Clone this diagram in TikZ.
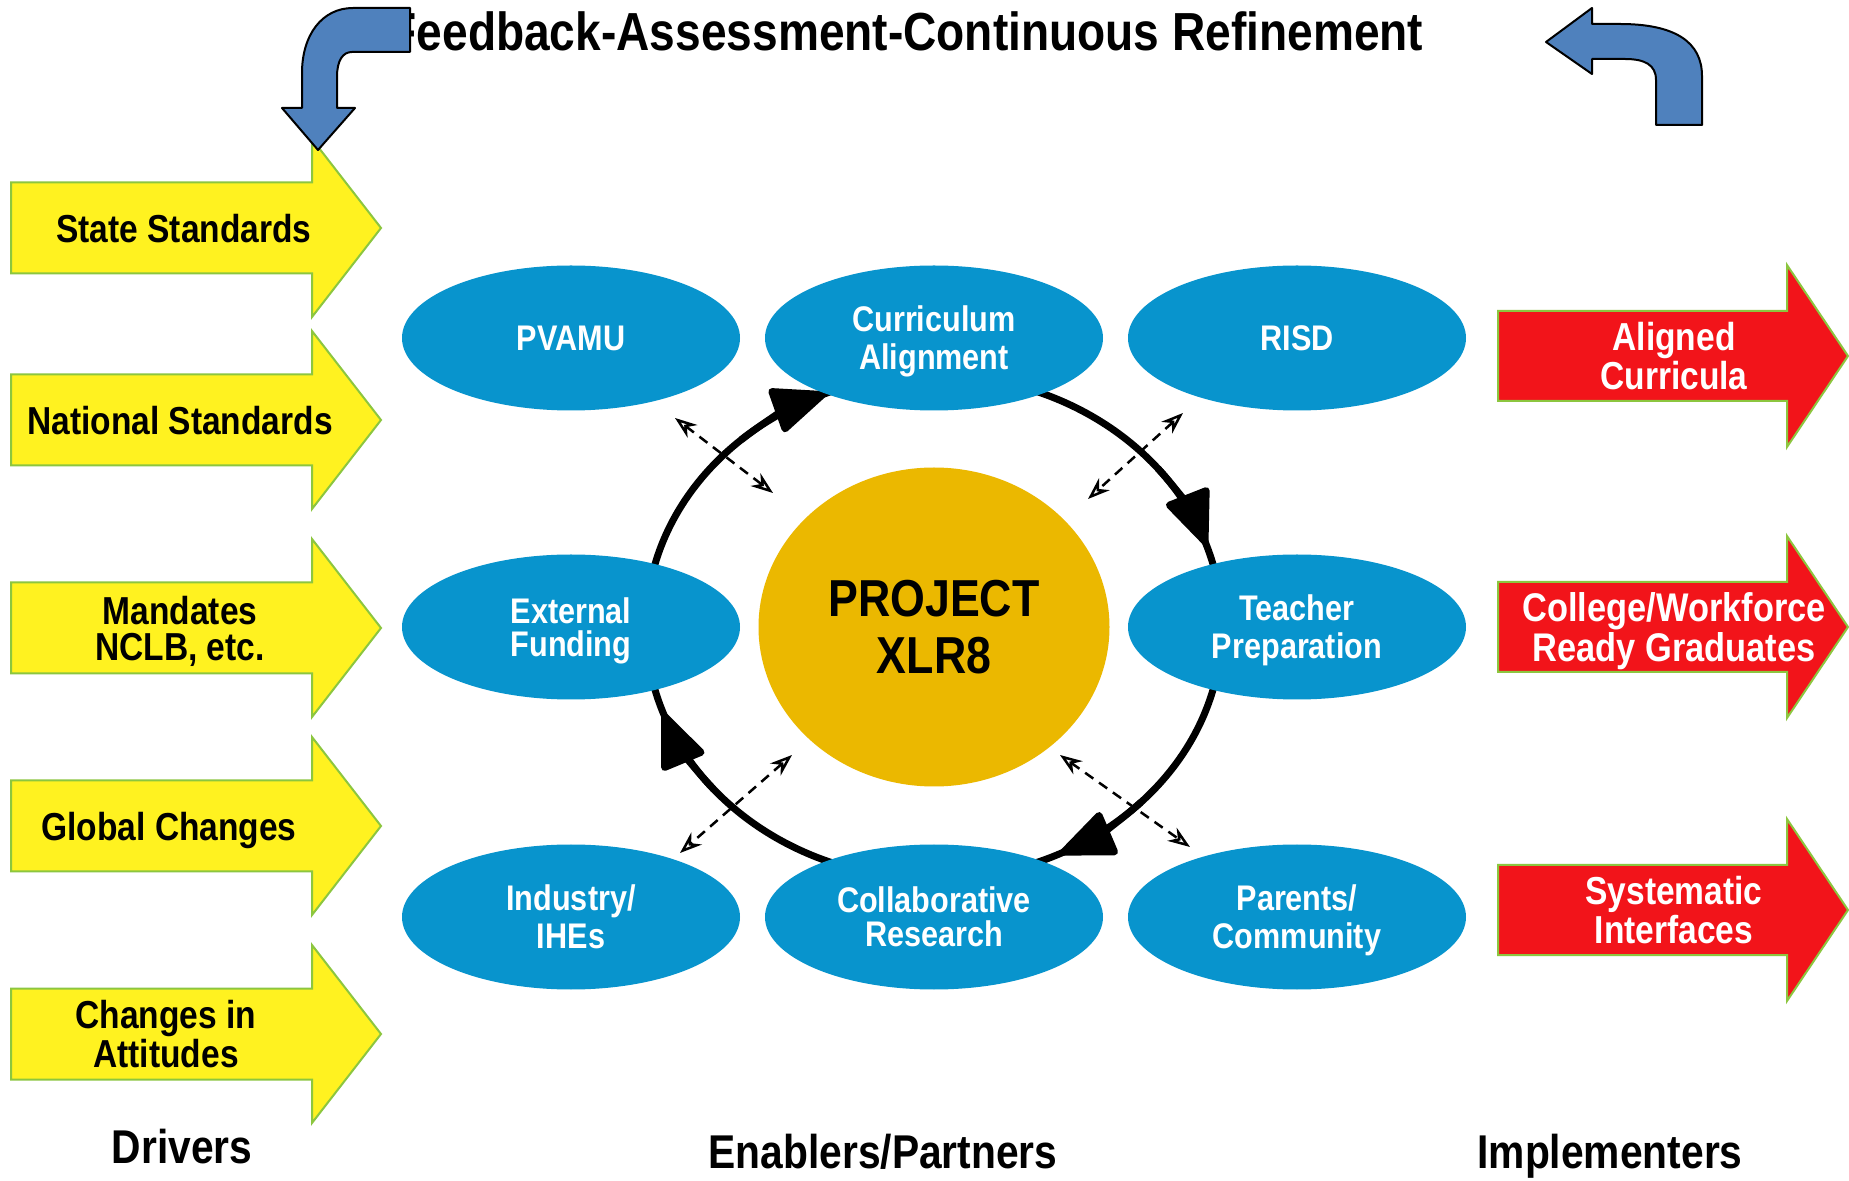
\documentclass[tikz,border=0pt]{standalone}
\usepackage{fontspec}
\setmainfont{Liberation Sans}[FakeStretch=0.86]
\usetikzlibrary{arrows.meta,shapes.geometric}

\definecolor{drvyellow}{RGB}{255,242,32}
\definecolor{edgegreen}{RGB}{140,198,63}
\definecolor{implred}{RGB}{242,20,26}
\definecolor{partnerblue}{RGB}{8,148,205}
\definecolor{coregold}{RGB}{235,184,0}
\definecolor{cycleblue}{RGB}{79,129,189}

% block arrow: style, left x, neck x, tip x, centre y, half body, half head
\newcommand\BlockArrow[7]{%
  \path[#1] (#2,#5-#6) -- (#3,#5-#6) -- (#3,#5-#7) -- (#4,#5)
    -- (#3,#5+#7) -- (#3,#5+#6) -- (#2,#5+#6) -- cycle;}

\begin{document}
\begin{tikzpicture}[x=0.5pt,y=-0.5pt,
  partner/.style={ellipse, fill=partnerblue, minimum width=169pt, minimum height=72.5pt,
    inner sep=0pt, text=white, align=center, text depth=0pt,
    font=\fontsize{17.8}{19}\selectfont\bfseries},
  core/.style={ellipse, fill=coregold, minimum width=175.5pt, minimum height=159.5pt,
    inner sep=0pt, align=center, font=\fontsize{26}{28.5}\selectfont\bfseries},
  drvbox/.style={fill=drvyellow, draw=edgegreen, line width=1pt},
  implbox/.style={fill=implred, draw=edgegreen, line width=1pt},
  drvtext/.style={align=center, inner sep=0pt, text depth=0pt,
    font=\fontsize{19.5}{18}\selectfont\bfseries},
  impltext/.style={drvtext, text=white},
  loopline/.style={line width=3.5pt},
  looptip/.style={line width=3.5pt, -{Triangle[length=30pt,width=24pt,round]}},
  link/.style={line width=1.25pt, dash pattern=on 5pt off 3.5pt,
    {Stealth[open,length=11pt,width=8pt]}-{Stealth[open,length=11pt,width=8pt]}},
  bentarrow/.style={fill=cycleblue, draw=black, line width=1pt, line join=round},
  caption/.style={font=\fontsize{23.7}{26}\selectfont\bfseries, anchor=base, inner sep=0pt}
]
\useasboundingbox (0,0) rectangle (1849,1181);
\fill[white] (0,0) rectangle (1849,1181);

% refinement cycle around the core
\coordinate (hub) at (934,627);
\draw[loopline] (hub) ellipse [x radius=144pt, y radius=126pt];
\draw[looptip] ([shift={(132:144pt and 126pt)}]hub) arc[start angle=132, end angle=112, x radius=144pt, y radius=126pt];
\draw[looptip] ([shift={(39:144pt and 126pt)}]hub) arc[start angle=39, end angle=19, x radius=144pt, y radius=126pt];
\draw[looptip] ([shift={(-44:144pt and 126pt)}]hub) arc[start angle=-44, end angle=-64, x radius=144pt, y radius=126pt];
\draw[looptip] ([shift={(220:144pt and 126pt)}]hub) arc[start angle=220, end angle=200, x radius=144pt, y radius=126pt];

% partners
\node[partner] (pvamu) at (571,338) {PVAMU};
\node[partner] (curric) at (934,338) {Curriculum\\Alignment};
\node[partner] (risd) at (1297,338) {RISD};
\node[partner, font=\fontsize{17.8}{16.5}\selectfont\bfseries] (funding) at (571,627) {External\\Funding};
\node[partner] (teacher) at (1297,627) {Teacher\\Preparation};
\node[partner] (industry) at (571,917) {Industry/\\IHEs};
\node[partner, font=\fontsize{17.8}{17}\selectfont\bfseries] (research) at (934,917) {Collaborative\\Research};
\node[partner] (parents) at (1297,917) {Parents/\\Community};

\node[core] (core) at (hub) {PROJECT\\XLR8};

% two-way links
\coordinate (la1) at (675,418);  \coordinate (la2) at (773,493);
\coordinate (lb1) at (1183,413); \coordinate (lb2) at (1088,499);
\coordinate (lc1) at (792,755);  \coordinate (lc2) at (680,853);
\coordinate (ld1) at (1060,755); \coordinate (ld2) at (1190,847);
\draw[link] (la1) -- (la2);
\draw[link] (lb1) -- (lb2);
\draw[link] (lc1) -- (lc2);
\draw[link] (ld1) -- (ld2);

% drivers
\BlockArrow{drvbox}{11}{312}{381}{228}{45.5}{89}
\BlockArrow{drvbox}{11}{312}{381}{420}{45.5}{89}
\BlockArrow{drvbox}{11}{312}{381}{628}{45.5}{89}
\BlockArrow{drvbox}{11}{312}{381}{826}{45.5}{89}
\BlockArrow{drvbox}{11}{312}{381}{1034}{45.5}{89}
\node[drvtext] (state) at (184,228) {State Standards};
\node[drvtext] (national) at (180,420) {National Standards};
\node[drvtext] (mandates) at (180,628) {Mandates\\NCLB, etc.};
\node[drvtext] (global) at (169,826) {Global Changes};
\node[drvtext] (attitudes) at (166,1034) {Changes in\\Attitudes};

% implementers
\BlockArrow{implbox}{1498}{1787}{1848}{356}{45}{91}
\BlockArrow{implbox}{1498}{1787}{1848}{627}{45}{91}
\BlockArrow{implbox}{1498}{1787}{1848}{910}{45}{91}
\node[impltext, font=\fontsize{19.5}{16.5}\selectfont\bfseries] (aligned) at (1674,356) {Aligned\\Curricula};
\node[impltext, font=\fontsize{20}{20}\selectfont\bfseries] (ready) at (1674,627) {College/Workforce\\Ready Graduates};
\node[impltext, font=\fontsize{19.5}{16}\selectfont\bfseries] (interfaces) at (1674,910) {Systematic\\Interfaces};

% title and feedback arrows
\node[anchor=base, inner sep=0pt, font=\fontsize{26.8}{28}\selectfont\bfseries] (title) at (906,51)
  {Feedback-Assessment-Continuous Refinement};
\path[bentarrow] (410,8) -- (353,8) .. controls (322,8) and (302,35) .. (302,73)
  -- (302,108) -- (282,108) -- (318,150) -- (355,108) -- (337,108) -- (337,77)
  .. controls (337,60) and (343,52) .. (352,52) -- (410,52) -- cycle;
\path[bentarrow] (1546,42) -- (1592,8) -- (1592,24) -- (1620,24)
  .. controls (1675,24) and (1702,42) .. (1702,76) -- (1702,125) -- (1656,125) -- (1656,80)
  .. controls (1656,65) and (1645,59) .. (1625,59) -- (1592,59) -- (1592,74) -- cycle;

% column captions
\node[caption] (drivers) at (182,1163) {Drivers};
\node[caption] (enablers) at (883,1168) {Enablers/Partners};
\node[caption] (implementers) at (1610,1168) {Implementers};
\end{tikzpicture}
\end{document}
